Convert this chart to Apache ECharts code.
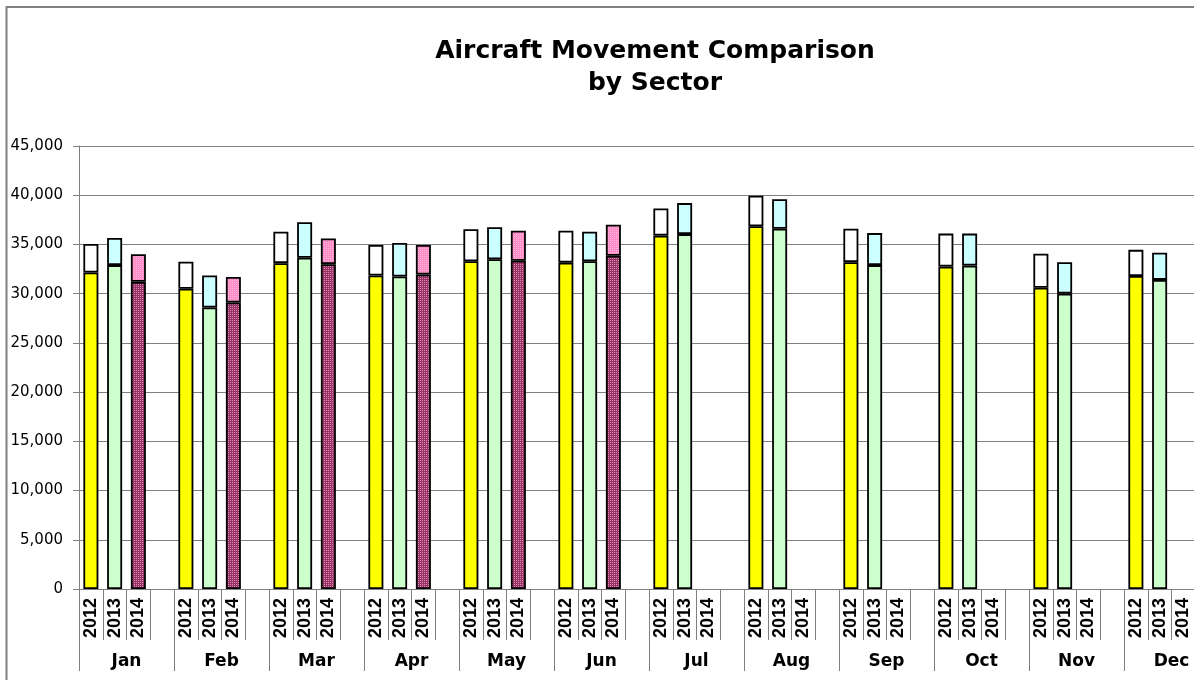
<html>
    <head>
        <meta charset="utf-8">
        <script src="https://cdn.jsdelivr.net/npm/echarts@6/dist/echarts.min.js"></script>
    </head>
    <body style="margin:0; overflow:hidden">
        <style>
            #main {
                position: absolute;
                left: 0;
                top: 0;
                width: 1219px;
                height: 680px;
            }
        </style>
        <div id="main"></div>

        <script>
            var months = ['Jan', 'Feb', 'Mar', 'Apr', 'May', 'Jun', 'Jul', 'Aug', 'Sep', 'Oct', 'Nov', 'Dec'];
            var years = ['2012', '2013', '2014'];

            // lower part of each bar, and the bar's total height
            var lower2012 = [32150, 30500, 33100, 31850, 33300, 33150, 35900, 36850, 33200, 32750, 30600, 31800];
            var total2012 = [35050, 33250, 36300, 34950, 36550, 36400, 38650, 39950, 36600, 36100, 34050, 34450];
            var lower2013 = [32900, 28600, 33650, 31750, 33500, 33300, 36050, 36600, 32900, 32850, 30000, 31400];
            var total2013 = [35650, 31850, 37250, 35150, 36750, 36300, 39200, 39600, 36150, 36100, 33200, 34150];
            var lower2014 = [31200, 29100, 33000, 31950, 33350, 33850];
            var total2014 = [34000, 31700, 35600, 34950, 36400, 37000];

            var yTicks = [0, 5000, 10000, 15000, 20000, 25000, 30000, 35000, 40000, 45000];

            function dotted(base, dot) {
                var c = document.createElement('canvas');
                c.width = 2;
                c.height = 2;
                var ctx = c.getContext('2d');
                ctx.fillStyle = base;
                ctx.fillRect(0, 0, 2, 2);
                ctx.fillStyle = dot;
                ctx.fillRect(0, 0, 1, 1);
                return {image: c, repeat: 'repeat'};
            }

            var lowColors = ['#ffff00', '#ccffcc', dotted('#993366', '#d98cb3')];
            var topColors = ['#ffffff', '#ccffff', dotted('#ff8cc6', '#ffb8dc')];
            var lows = [lower2012, lower2013, lower2014];
            var tots = [total2012, total2013, total2014];

            // 4 slots per month: three years and a gap
            var slots = [];
            var lowData = [];
            var topData = [];
            for (var m = 0; m < months.length; m++) {
                for (var k = 0; k < 4; k++) {
                    slots.push(k < 3 ? years[k] : '');
                    var lo = k < 3 ? lows[k][m] : undefined;
                    var to = k < 3 ? tots[k][m] : undefined;
                    if (lo == null) {
                        lowData.push('-');
                        topData.push('-');
                        continue;
                    }
                    lowData.push({value: lo, itemStyle: {color: lowColors[k]}});
                    topData.push({value: to - lo, itemStyle: {color: topColors[k]}});
                }
            }

            var chart = echarts.init(document.getElementById('main'));
            chart.setOption({
                animation: false,
                backgroundColor: '#ffffff',
                title: {
                    text: 'Aircraft Movement Comparison\nby Sector',
                    left: 650,
                    top: 30,
                    textAlign: 'center',
                    textStyle: {
                        fontFamily: 'DejaVu Sans',
                        fontWeight: 'bold',
                        fontSize: 25,
                        lineHeight: 32,
                        color: '#000'
                    }
                },
                graphic: [{
                    type: 'rect',
                    shape: {x: 6.5, y: 7, width: 1250, height: 700},
                    style: {fill: 'none', stroke: '#808080', lineWidth: 2},
                    silent: true
                }],
                grid: {
                    left: 79,
                    right: 0,
                    top: 146,
                    bottom: 91
                },
                xAxis: [{
                    type: 'category',
                    data: slots,
                    axisLine: {lineStyle: {color: '#808080', width: 1}},
                    axisTick: {show: true, interval: 0, length: 51, lineStyle: {color: '#808080'}},
                    axisLabel: {
                        interval: 0,
                        rotate: 90,
                        margin: 9,
                        fontFamily: 'Liberation Sans',
                        fontWeight: 'bold',
                        fontSize: 18,
                        color: '#000'
                    }
                }, {
                    type: 'category',
                    data: months,
                    position: 'bottom',
                    axisLine: {show: false},
                    axisTick: {show: true, interval: 0, length: 82, lineStyle: {color: '#808080'}},
                    axisLabel: {
                        interval: 0,
                        margin: 64,
                        fontFamily: 'DejaVu Sans',
                        fontWeight: 'bold',
                        fontSize: 17,
                        color: '#000'
                    }
                }],
                yAxis: {
                    type: 'value',
                    min: yTicks[0],
                    max: yTicks[yTicks.length - 1],
                    interval: 5000,
                    axisLine: {show: true, lineStyle: {color: '#808080'}},
                    axisTick: {show: true, length: 6, lineStyle: {color: '#808080'}},
                    splitLine: {lineStyle: {color: '#808080', width: 1}},
                    axisLabel: {
                        margin: 16,
                        fontFamily: 'DejaVu Sans',
                        fontSize: 15,
                        color: '#000',
                        formatter: function (v) {
                            return v.toLocaleString('en-US');
                        }
                    }
                },
                series: [{
                    name: 'lower',
                    type: 'bar',
                    stack: 'all',
                    barWidth: 15,
                    data: lowData,
                    itemStyle: {borderColor: '#000', borderWidth: 1.8}
                }, {
                    name: 'upper',
                    type: 'bar',
                    stack: 'all',
                    barWidth: 15,
                    data: topData,
                    itemStyle: {borderColor: '#000', borderWidth: 1.8}
                }]
            });
        </script>
    </body>
</html>
